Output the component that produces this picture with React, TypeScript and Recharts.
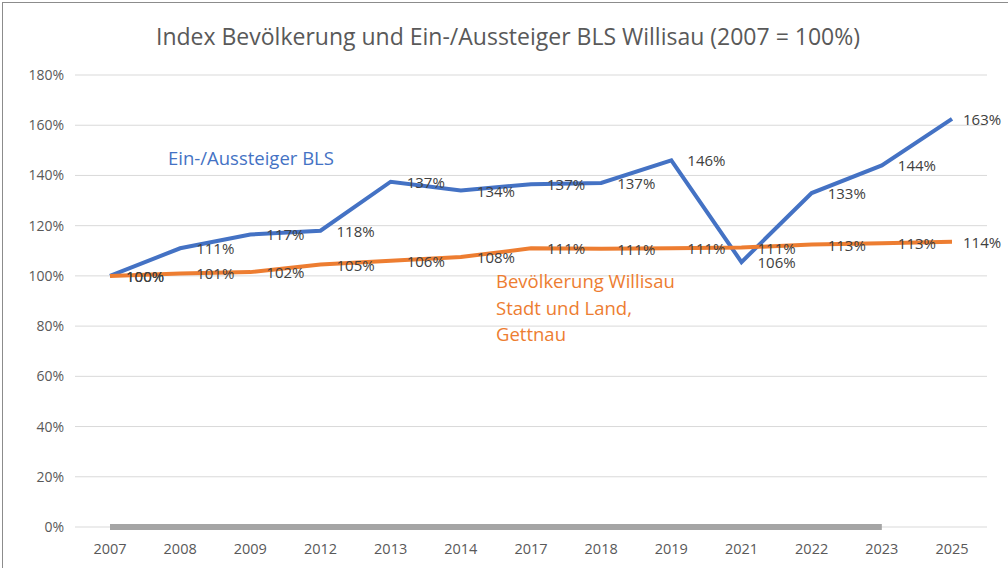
import { LineChart, Line, XAxis, YAxis, CartesianGrid, LabelList } from 'recharts';

const years = ['2007', '2008', '2009', '2012', '2013', '2014', '2017', '2018', '2019', '2021', '2022', '2023', '2025'];
const blsIndex = [100, 111, 116.5, 118, 137.5, 134, 136.5, 137, 146, 105.5, 133, 144, 162.5];
const blsLabels = ['100%', '111%', '117%', '118%', '137%', '134%', '137%', '137%', '146%', '106%', '133%', '144%', '163%'];
const popIndex = [100, 101, 101.5, 104.5, 106, 107.5, 111, 110.8, 111, 111.3, 112.5, 113, 113.6];
const popLabels = ['100%', '101%', '102%', '105%', '106%', '108%', '111%', '111%', '111%', '111%', '113%', '113%', '114%'];
const baseLine = [0, 0, 0, 0, 0, 0, 0, 0, 0, 0, 0, 0, null];
const yTicks = [0, 20, 40, 60, 80, 100, 120, 140, 160, 180];

const FONT = '"Open Sans", sans-serif';

const data = years.map((year, i) => ({
  year,
  bls: blsIndex[i],
  blsLabel: blsLabels[i],
  pop: popIndex[i],
  popLabel: popLabels[i],
  base: baseLine[i],
}));

const PointLabel = ({ x, y, value, index }: any) => (
  <text
    x={x + (index === years.length - 1 ? 11 : 16)}
    y={y + 6}
    fill="#404040"
    fontSize={15}
    fontFamily={FONT}
    textAnchor="start"
  >
    {value}
  </text>
);

export default function App() {
  return (
    <div style={{ position: 'absolute', left: 0, top: 0, width: 1008, height: 568, background: '#fff', overflow: 'hidden' }}>
      <div style={{ position: 'absolute', left: 2, top: 2, right: 0, bottom: 0, borderTop: '1px solid #8c8c8c', borderLeft: '1px solid #8c8c8c' }} />
      <div
        style={{
          position: 'absolute',
          top: 20,
          left: 0,
          width: 1016,
          textAlign: 'center',
          fontFamily: FONT,
          fontSize: 23,
          color: '#595959',
        }}
      >
        Index Bevölkerung und Ein-/Aussteiger BLS Willisau (2007 = 100%)
      </div>
      <LineChart width={1008} height={568} data={data} margin={{ top: 75, right: 21, left: 0, bottom: 0 }}>
        <CartesianGrid vertical={false} stroke="#d9d9d9" />
        <XAxis
          dataKey="year"
          height={41}
          axisLine={false}
          tickLine={false}
          tickSize={15}
          padding={{ left: 35, right: 35 }}
          tick={{ fill: '#595959', fontSize: 14.5, fontFamily: FONT }}
        />
        <YAxis
          width={75}
          domain={[0, 180]}
          ticks={yTicks}
          axisLine={false}
          tickLine={false}
          tickSize={9}
          tickFormatter={(v) => `${v}%`}
          tick={{ fill: '#595959', fontSize: 14, fontFamily: FONT }}
        />
        <Line dataKey="base" stroke="#a5a5a5" strokeWidth={6} dot={false} isAnimationActive={false} />
        <Line dataKey="bls" stroke="#4472c4" strokeWidth={4} dot={false} isAnimationActive={false}>
          <LabelList dataKey="blsLabel" content={<PointLabel />} />
        </Line>
        <Line dataKey="pop" stroke="#ed7d31" strokeWidth={4} dot={false} isAnimationActive={false}>
          <LabelList dataKey="popLabel" content={<PointLabel />} />
        </Line>
      </LineChart>
      <div style={{ position: 'absolute', left: 168, top: 145, fontFamily: FONT, fontSize: 18.5, color: '#4472c4' }}>
        Ein-/Aussteiger BLS
      </div>
      <div style={{ position: 'absolute', left: 496, top: 268, fontFamily: FONT, fontSize: 18.5, lineHeight: '26.5px', color: '#ed7d31' }}>
        Bevölkerung Willisau
        <br />
        Stadt und Land,
        <br />
        Gettnau
      </div>
    </div>
  );
}
